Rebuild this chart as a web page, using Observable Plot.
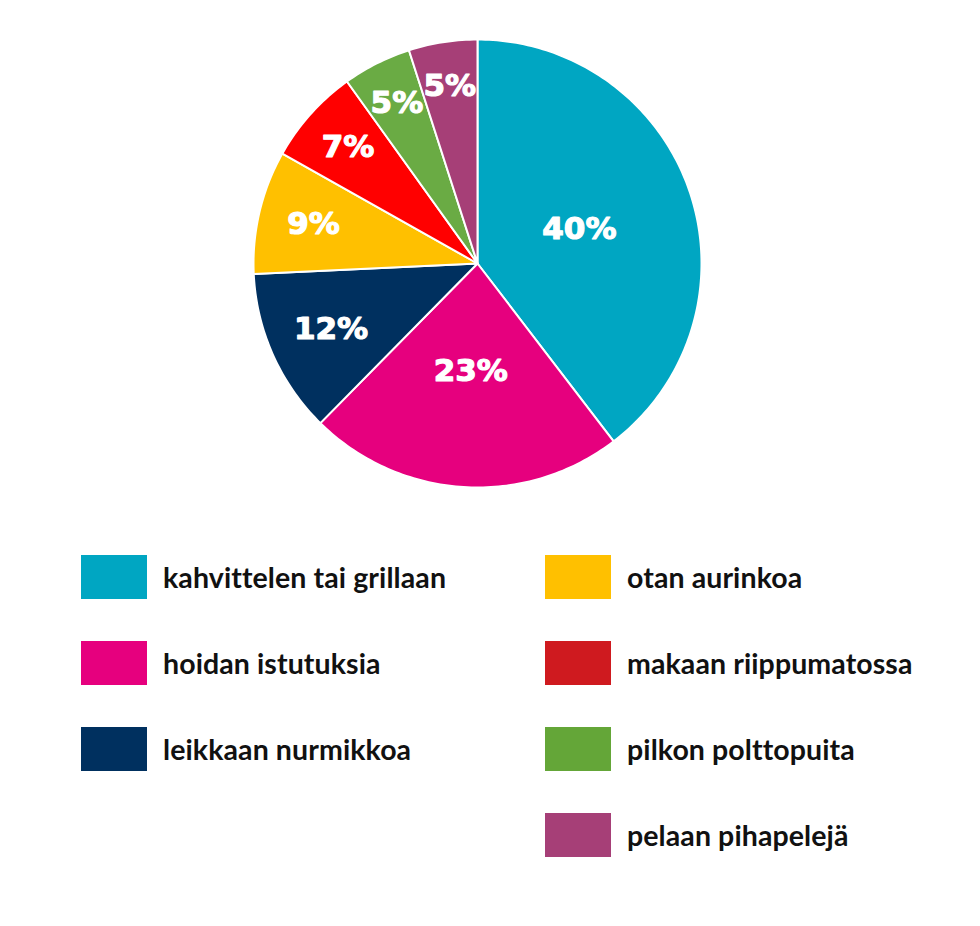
<!DOCTYPE html>
<html>
<head>
<meta charset="utf-8">
<script src="https://cdn.jsdelivr.net/npm/d3@7"></script>
<script src="https://cdn.jsdelivr.net/npm/@observablehq/plot@0.6"></script>
<style>
  html, body { margin: 0; padding: 0; background: #fff; }
  #wrap { width: 980px; position: relative; }
  #legend { position: relative; height: 416px; font-family: Lato, "Open Sans", sans-serif; }
  .col { position: absolute; top: 45px; display: flex; flex-direction: column; gap: 42px; }
  .item { display: flex; align-items: center; height: 44px; }
  .sw { width: 66px; height: 44px; flex: none; }
  .lbl { font-weight: 700; font-size: 28.5px; color: #111; margin-left: 16px; white-space: nowrap; letter-spacing: 0.1px; }
</style>
</head>
<body>
<div id="wrap">
  <div id="chart"></div>
  <div id="legend"></div>
</div>
<script>
const categories = ["kahvittelen tai grillaan", "hoidan istutuksia", "leikkaan nurmikkoa", "otan aurinkoa", "makaan riippumatossa", "pilkon polttopuita", "pelaan pihapelejä"];
const values = [40, 23, 12, 9, 7, 5, 5];
const pieColors = ["#00A6C2", "#E6007E", "#00305F", "#FFC000", "#FF0000", "#6AAB44", "#A63F77"];
const legendColors = ["#00A6C2", "#E6007E", "#00305F", "#FFC000", "#CF1A1F", "#64A638", "#A63F77"];
const legendLeft = categories.slice(0, 3);
const legendRight = categories.slice(3);

const W = 980, H = 510, cx = 477, cy = 263, R = 224;

const arcs = d3.pie().sort(null).value(d => d)(values);

const slicePoints = arcs.flatMap((a, i) => {
  const cat = categories[i];
  const pts = [{cat, x: 0, y: 0}];
  const n = Math.max(2, Math.ceil((a.endAngle - a.startAngle) / (Math.PI / 180)));
  for (let k = 0; k <= n; k++) {
    const t = a.startAngle + (a.endAngle - a.startAngle) * k / n;
    pts.push({cat, x: Math.sin(t), y: Math.cos(t)});
  }
  pts.push({cat, x: 0, y: 0});
  return pts;
});

const labels = arcs.map((a, i) => {
  const mid = (a.startAngle + a.endAngle) / 2;
  const v = values[i];
  const r = v >= 20 ? 0.48 : 0.86 - 0.012 * v;
  return {cat: categories[i], x: r * Math.sin(mid), y: r * Math.cos(mid), text: Math.round(v) + "%"};
});

const chart = Plot.plot({
  width: W,
  height: H,
  margin: 0,
  x: {domain: [-cx / R, (W - cx) / R], axis: null},
  y: {domain: [-(H - cy) / R, cy / R], axis: null},
  color: {domain: categories, range: pieColors},
  marks: [
    Plot.line(slicePoints, {x: "x", y: "y", z: "cat", fill: "cat", stroke: "white", strokeWidth: 2, strokeLinejoin: "round"}),
    Plot.text(labels, {x: "x", y: "y", text: "text", fill: "white", stroke: "white", strokeWidth: 1.2, fontSize: 31, fontWeight: 700, fontFamily: "'DejaVu Sans', sans-serif"})
  ]
});
document.getElementById("chart").appendChild(chart);

const legend = document.getElementById("legend");
function makeCol(items, left, offset) {
  const col = document.createElement("div");
  col.className = "col";
  col.style.left = left + "px";
  items.forEach((c, j) => {
    const it = document.createElement("div");
    it.className = "item";
    const sw = document.createElement("div");
    sw.className = "sw";
    sw.style.background = legendColors[offset + j];
    const lb = document.createElement("div");
    lb.className = "lbl";
    lb.textContent = c;
    it.appendChild(sw);
    it.appendChild(lb);
    col.appendChild(it);
  });
  legend.appendChild(col);
}
makeCol(legendLeft, 81, 0);
makeCol(legendRight, 545, 3);
</script>
</body>
</html>
